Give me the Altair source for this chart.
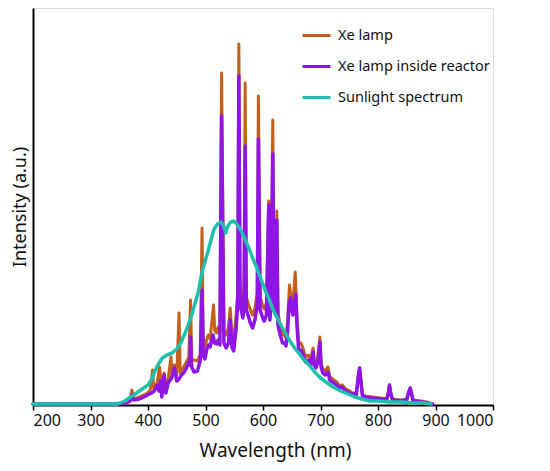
import altair as alt
import pandas as pd

# Xe lamp (orange)
xe_nm = [200, 345, 362, 369, 372, 375, 385, 393, 399, 404, 408, 410, 416, 420, 422, 424, 428, 431, 435, 440,
         442, 446, 450, 454, 456, 462, 466, 471, 474, 476, 480, 486, 491, 494, 496, 499, 502, 505, 508, 514,
         516, 519, 522, 525, 528, 532, 536, 540, 543, 546, 549, 553, 556, 558, 560, 562, 565, 567, 569, 571,
         575, 578, 582, 586, 590, 592, 595, 599, 602, 606, 610, 612, 614, 617, 619, 622, 624, 626, 630, 634,
         637, 640, 643, 646, 648, 650, 652, 656, 659, 662, 666, 670, 674, 679, 683, 687, 689, 692, 695, 699,
         701, 704, 708, 713, 716, 721, 728, 733, 738, 742, 747, 751, 755, 759, 762, 766, 768, 770, 773, 778,
         790, 805, 815, 818, 820, 822, 825, 840, 850, 853, 856, 858, 861, 875, 885, 895]
xe_int = [1, 1, 2, 5, 15, 6, 8, 10, 12, 15, 35, 16, 22, 38, 26, 14, 32, 18, 26, 48,
          30, 40, 30, 92, 32, 38, 42, 48, 105, 45, 45, 44, 50, 177, 60, 58, 65, 70, 66, 100,
          75, 72, 78, 72, 332, 75, 70, 78, 97, 70, 66, 88, 115, 361, 125, 108, 100, 115, 322, 108,
          100, 95, 90, 97, 112, 309, 108, 100, 96, 102, 204, 98, 112, 285, 122, 102, 194, 92, 80, 70,
          70, 67, 85, 120, 112, 105, 100, 133, 90, 62, 62, 56, 48, 50, 45, 57, 45, 41, 46, 68,
          42, 36, 34, 38, 29, 26, 23, 19, 20, 17, 15, 14, 12, 12, 10, 31, 37, 26, 10, 9,
          8, 7, 6, 13, 20, 13, 6, 5, 6, 13, 17, 13, 5, 4, 3, 1]

# Xe lamp inside reactor (purple)
rx_nm = [200, 345, 362, 369, 372, 375, 385, 393, 399, 406, 411, 416, 419, 422, 424, 428, 431, 435, 441, 446,
         450, 453, 458, 462, 466, 471, 473, 474, 476, 480, 486, 491, 494, 496, 499, 502, 505, 508, 513, 516,
         519, 522, 525, 528, 532, 536, 540, 543, 546, 549, 553, 556, 558, 560, 562, 565, 567, 569, 571, 575,
         578, 582, 586, 590, 592, 595, 599, 602, 606, 610, 612, 614, 617, 619, 622, 624, 626, 630, 634, 637,
         640, 643, 645, 648, 650, 652, 654, 657, 659, 662, 666, 670, 674, 679, 683, 687, 689, 692, 695, 699,
         701, 704, 708, 713, 716, 721, 728, 733, 738, 742, 747, 751, 755, 759, 762, 766, 768, 770, 773, 778,
         790, 805, 815, 818, 820, 822, 825, 840, 850, 853, 856, 858, 861, 875, 885, 895]
rx_int = [1, 1, 2, 4, 10, 5, 6, 8, 10, 12, 14, 20, 14, 24, 8, 30, 12, 22, 27, 37,
          24, 25, 30, 32, 36, 43, 40, 68, 38, 33, 34, 45, 115, 50, 46, 55, 60, 58, 70, 62,
          61, 65, 60, 289, 62, 57, 62, 85, 58, 54, 75, 100, 329, 110, 95, 87, 100, 259, 95, 88,
          82, 77, 85, 100, 266, 95, 88, 84, 90, 200, 85, 100, 251, 110, 90, 185, 80, 70, 62, 62,
          59, 75, 100, 107, 95, 90, 100, 111, 80, 55, 55, 50, 43, 45, 40, 53, 40, 37, 42, 63,
          38, 32, 30, 33, 25, 23, 20, 17, 18, 15, 13, 12, 11, 11, 9, 30, 37, 25, 9, 8,
          7, 6, 5, 12, 20, 12, 5, 4, 5, 12, 17, 12, 4, 3, 2, 1]

# Sunlight spectrum (teal)
sun_nm = [200, 300, 345, 352, 360, 370, 380, 390, 400, 407, 412, 418, 425, 433, 442, 450, 457, 466, 475, 481,
          487, 491, 495, 500, 504, 510, 515, 521, 527, 531, 535, 539, 544, 549, 553, 558, 563, 568, 573, 578,
          582, 588, 593, 599, 605, 611, 617, 624, 631, 640, 648, 655, 662, 670, 680, 690, 700, 712, 722, 735,
          748, 760, 772, 786, 800, 820, 840, 860, 880, 892]
sun_int = [1, 1, 1, 2, 4, 8, 12, 16, 20, 26, 34, 41, 47, 50, 52, 56, 62, 74, 88, 100,
           112, 124, 135, 145, 153, 166, 176, 181, 183, 180, 172, 179, 183, 184, 182, 178, 173, 167, 160, 153,
           147, 139, 131, 122, 113, 105, 96, 88, 80, 71, 63, 57, 52, 46, 40, 33, 27, 22, 18, 14,
           11, 8, 6, 4, 4, 3, 3, 2, 2, 1]

series_names = ["Xe lamp", "Xe lamp inside reactor", "Sunlight spectrum"]
series_colors = ["#C4601C", "#8E15E6", "#1FBFAE"]
x_ticks = [200, 300, 400, 500, 600, 700, 800, 900, 1000]

FONT = "Noto Sans"

def frame(nm, vals, name):
    return pd.DataFrame({"Wavelength": nm, "Intensity": vals, "Series": name})

color = alt.Color(
    "Series:N",
    scale=alt.Scale(domain=series_names, range=series_colors),
    legend=alt.Legend(
        title=None, orient="none", legendX=268, legendY=12,
        symbolType="stroke", symbolSize=784, symbolStrokeWidth=3,
        labelFontSize=14.5, labelFont=FONT, labelColor="#111", labelOffset=6,
        rowPadding=9, padding=0, labelLimit=300,
    ),
)

xenc = alt.X(
    "Wavelength:Q",
    scale=alt.Scale(domain=[200, 1000], nice=False, zero=False),
    axis=alt.Axis(values=x_ticks, format="d", title="Wavelength (nm)", grid=False,
                  labelFontSize=16, labelFont=FONT, labelColor="#111", labelPadding=2,
                  tickSize=5, tickColor="#000", tickWidth=1.5,
                  domainColor="#000", domainWidth=2,
                  titleFontSize=19, titleFont=FONT, titleFontWeight="normal", titleColor="#111",
                  titlePadding=13, titleX=242, titleAlign="center"),
)
yenc = alt.Y(
    "Intensity:Q",
    scale=alt.Scale(domain=[0, 397], nice=False),
    axis=alt.Axis(title="Intensity (a.u.)", labels=False, ticks=False, grid=False,
                  domainColor="#000", domainWidth=2,
                  titleFontSize=18, titleFont=FONT, titleFontWeight="normal", titleColor="#111",
                  titlePadding=4),
)

def line(df, width):
    return alt.Chart(df).mark_line(strokeWidth=width, strokeJoin="round", strokeCap="round").encode(
        x=xenc, y=yenc, color=color, order=alt.Order("Wavelength:Q")
    )

chart = alt.layer(
    line(frame(xe_nm, xe_int, series_names[0]), 3),
    line(frame(rx_nm, rx_int, series_names[1]), 3.5),
    line(frame(sun_nm, sun_int, series_names[2]), 3.5),
).properties(
    width=460, height=397,
    autosize=alt.AutoSizeParams(type="none"),
    padding={"left": 25, "top": 0, "right": 40, "bottom": 60},
).configure_view(stroke="#000", strokeWidth=2).configure(background="white")

chart.save("out.html", embed_options={"renderer": "svg", "actions": False})
